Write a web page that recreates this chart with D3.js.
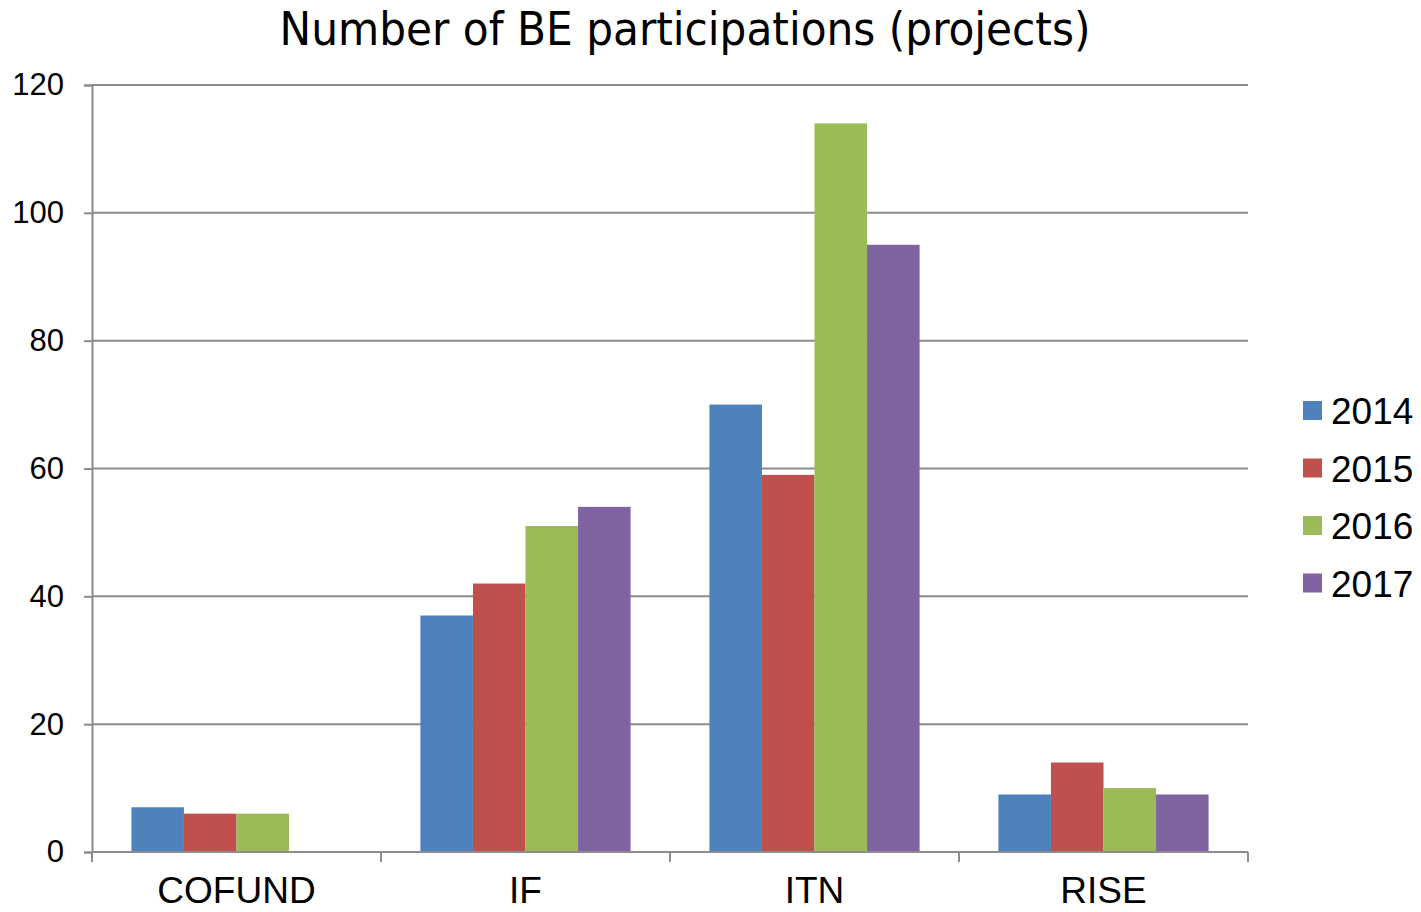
<!DOCTYPE html>
<html>
<head>
<meta charset="utf-8">
<script src="https://cdn.jsdelivr.net/npm/d3@7"></script>
<style>
  html, body { margin: 0; padding: 0; background: #fff; }
  svg { display: block; }
</style>
</head>
<body>
<svg id="chart" width="1421" height="912"></svg>
<script>
// ── Data ────────────────────────────────────────────────────────────────
const categories = ['COFUND', 'IF', 'ITN', 'RISE'];
const years = ['2014', '2015', '2016', '2017'];
const values2014 = [7, 37, 70, 9];
const values2015 = [6, 42, 59, 14];
const values2016 = [6, 51, 114, 10];
const values2017 = [0, 54, 95, 9];
const yTicks = [0, 20, 40, 60, 80, 100, 120];
const colors = ['#4f81bd', '#c0504d', '#9bbb59', '#8064a2'];

const series = [values2014, values2015, values2016, values2017];

// ── Layout ──────────────────────────────────────────────────────────────
const svg = d3.select('#chart');
const plot = { left: 92, right: 1248, top: 85, bottom: 852 };

const x = d3.scaleBand()
  .domain(categories)
  .range([plot.left, plot.right])
  .paddingInner(0)
  .paddingOuter(0);

const xInner = d3.scaleBand()
  .domain(years)
  .range([0, x.bandwidth()])
  .paddingOuter(0.75)
  .paddingInner(0);

const y = d3.scaleLinear()
  .domain([0, 120])
  .range([plot.bottom, plot.top]);

// ── Gridlines ───────────────────────────────────────────────────────────
svg.append('g')
  .selectAll('line')
  .data(yTicks.filter(d => d > 0))
  .join('line')
    .attr('x1', plot.left)
    .attr('x2', plot.right)
    .attr('y1', d => y(d))
    .attr('y2', d => y(d))
    .attr('stroke', '#8c8c8c')
    .attr('stroke-width', 2);

// ── Bars ────────────────────────────────────────────────────────────────
const rows = [];
categories.forEach((c, i) => {
  years.forEach((yr, j) => {
    rows.push({ cat: c, year: yr, value: series[j][i], color: colors[j] });
  });
});

svg.append('g')
  .selectAll('rect')
  .data(rows.filter(d => d.value > 0))
  .join('rect')
    .attr('x', d => x(d.cat) + xInner(d.year))
    .attr('y', d => y(d.value))
    .attr('width', xInner.bandwidth())
    .attr('height', d => y(0) - y(d.value))
    .attr('fill', d => d.color);

// ── Y axis ──────────────────────────────────────────────────────────────
const yAxis = d3.axisLeft(y)
  .tickValues(yTicks)
  .tickSize(8)
  .tickPadding(20);

const yG = svg.append('g')
  .attr('transform', `translate(${plot.left},0)`)
  .call(yAxis);
yG.select('.domain').attr('stroke', '#8c8c8c').attr('stroke-width', 2);
yG.selectAll('.tick line').attr('stroke', '#8c8c8c').attr('stroke-width', 2);
yG.selectAll('.tick text')
  .attr('font-family', 'Liberation Sans, Arial, sans-serif')
  .attr('font-size', 31)
  .attr('fill', '#000');

// ── X axis ──────────────────────────────────────────────────────────────
const xG = svg.append('g')
  .attr('transform', `translate(0,${plot.bottom})`);
xG.append('line')
  .attr('x1', plot.left).attr('x2', plot.right)
  .attr('stroke', '#8c8c8c').attr('stroke-width', 2);
xG.selectAll('line.tick')
  .data(categories.map(c => x(c)).concat([plot.right]))
  .join('line')
    .attr('class', 'tick')
    .attr('x1', d => d).attr('x2', d => d)
    .attr('y1', 0).attr('y2', 10)
    .attr('stroke', '#8c8c8c').attr('stroke-width', 2);
xG.selectAll('text')
  .data(categories)
  .join('text')
    .attr('x', d => x(d) + x.bandwidth() / 2)
    .attr('y', 51)
    .attr('text-anchor', 'middle')
    .attr('font-family', 'Liberation Sans, Arial, sans-serif')
    .attr('font-size', 37)
    .attr('fill', '#000')
    .text(d => d);

// ── Title ───────────────────────────────────────────────────────────────
svg.append('text')
  .attr('x', 685)
  .attr('y', 45)
  .attr('text-anchor', 'middle')
  .attr('font-family', 'DejaVu Sans Condensed, DejaVu Sans, sans-serif')
  .attr('font-stretch', 'condensed')
  .attr('font-size', 47)
  .attr('fill', '#000')
  .text('Number of BE participations (projects)');

// ── Legend ──────────────────────────────────────────────────────────────
const legend = svg.append('g')
  .selectAll('g')
  .data(years)
  .join('g')
    .attr('transform', (d, i) => `translate(1303,${411 + i * 57.5})`);
legend.append('rect')
  .attr('x', 0).attr('y', -10)
  .attr('width', 19).attr('height', 19)
  .attr('fill', (d, i) => colors[i]);
legend.append('text')
  .attr('x', 28).attr('y', 13)
  .attr('font-family', 'Liberation Sans, Arial, sans-serif')
  .attr('font-size', 37)
  .attr('fill', '#000')
  .text(d => d);
</script>
</body>
</html>
